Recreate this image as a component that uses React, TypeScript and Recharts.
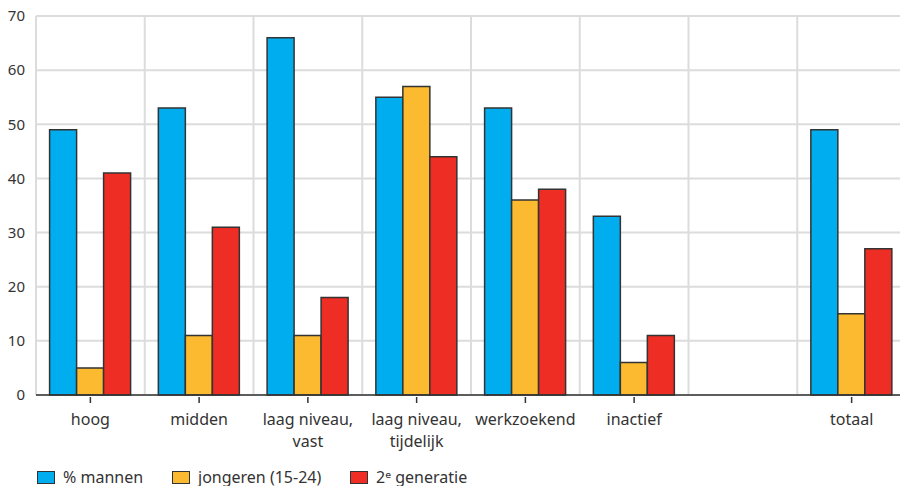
import { Bar, BarChart, CartesianGrid, Legend, XAxis, YAxis } from "recharts";

const categories = [
  "hoog",
  "midden",
  "laag niveau,\nvast",
  "laag niveau,\ntijdelijk",
  "werkzoekend",
  "inactief",
  "",
  "totaal",
];
const mannen = [49, 53, 66, 55, 53, 33, null, 49];
const jongeren = [5, 11, 11, 57, 36, 6, null, 15];
const tweedeGeneratie = [41, 31, 18, 44, 38, 11, null, 27];
const yTicks = [0, 10, 20, 30, 40, 50, 60, 70];

const series = [
  { key: "mannen", name: "% mannen", color: "#00aeef" },
  { key: "jongeren", name: "jongeren (15-24)", color: "#fbba2f" },
  { key: "tweede", name: "2ᵉ generatie", color: "#ee2e24" },
];

const data = categories.map((c, i) => ({
  cat: c,
  mannen: mannen[i],
  jongeren: jongeren[i],
  tweede: tweedeGeneratie[i],
}));

const textColor = "#333333";
const font = "'Noto Sans', sans-serif";

// draws the tick mark too, so the empty slot gets none
const CatTick = (props: any) => {
  const { x, y, payload } = props;
  const label = String(payload.value);
  const lines = label.split("\n");
  return (
    <g transform={`translate(${x},${y})`}>
      {label !== "" && <line x1={0} x2={0} y1={0} y2={6} stroke={textColor} strokeWidth={1.5} />}
      {lines.map((l, i) => (
        <text
          key={i}
          x={0}
          y={i * 22}
          dy={28}
          textAnchor="middle"
          fill={textColor}
          fontSize={16}
          fontFamily={font}
        >
          {l}
        </text>
      ))}
    </g>
  );
};

const LegendContent = () => (
  <div style={{ display: "flex", fontFamily: font, fontSize: 16, color: textColor, lineHeight: "16px" }}>
    {series.map((s, i) => (
      <div
        key={s.key}
        style={{ display: "flex", alignItems: "center", width: i === 0 ? 135 : i === 1 ? 178 : 160 }}
      >
        <span
          style={{
            display: "inline-block",
            width: 16,
            height: 11,
            background: s.color,
            border: "1.5px solid #333",
            marginRight: 8,
          }}
        />
        <span>{s.name}</span>
      </div>
    ))}
  </div>
);

const App = () => {
  return (
    <div
      style={{
        position: "fixed",
        top: 0,
        left: 0,
        width: 900,
        height: 486,
        overflow: "hidden",
        background: "#fff",
      }}
    >
      <BarChart
        width={906}
        height={486}
        data={data}
        margin={{ top: 16, right: 0, left: 0, bottom: 41 }}
        barCategoryGap="12.5%"
        barGap={0}
      >
        <CartesianGrid
          stroke="#dcdcdc"
          strokeWidth={2}
          verticalCoordinatesGenerator={({ offset }: any) =>
            categories.map((_, i) => offset.left + (i * offset.width) / categories.length)
          }
        />
        <XAxis
          dataKey="cat"
          interval={0}
          height={50}
          tick={<CatTick />}
          tickSize={0}
          tickLine={false}
          axisLine={{ stroke: textColor, strokeWidth: 1.5 }}
        />
        <YAxis
          width={36}
          domain={[0, 70]}
          ticks={yTicks}
          axisLine={false}
          tickLine={false}
          tickSize={0}
          tickMargin={11}
          tick={{ fill: textColor, fontSize: 15, fontFamily: font }}
        />
        {series.map((s) => (
          <Bar
            key={s.key}
            dataKey={s.key}
            name={s.name}
            fill={s.color}
            stroke="#333"
            strokeWidth={1.5}
            isAnimationActive={false}
          />
        ))}
        <Legend
          layout="horizontal"
          verticalAlign="middle"
          align="center"
          content={<LegendContent />}
          wrapperStyle={{ top: 469, left: 37, width: 600, height: 16 }}
        />
      </BarChart>
    </div>
  );
};

export default App;
